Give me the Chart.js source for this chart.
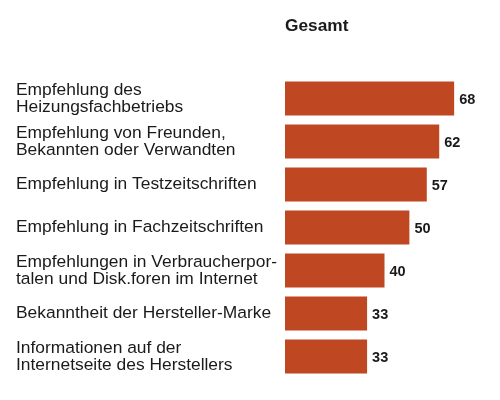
<!DOCTYPE html>
<html>
<head>
<meta charset="utf-8">
<script src="https://cdn.jsdelivr.net/npm/chart.js@4/dist/chart.umd.min.js"></script>
<style>
  html, body { margin: 0; padding: 0; background: #fff; }
  #wrap { width: 500px; height: 400px; }
</style>
</head>
<body>
<div id="wrap"><canvas id="chart"></canvas></div>
<script>
const categories = [
  ['Empfehlung des', 'Heizungsfachbetriebs'],
  ['Empfehlung von Freunden,', 'Bekannten oder Verwandten'],
  'Empfehlung in Testzeitschriften',
  'Empfehlung in Fachzeitschriften',
  ['Empfehlungen in Verbraucherpor-', 'talen und Disk.foren im Internet'],
  'Bekanntheit der Hersteller-Marke',
  ['Informationen auf der', 'Internetseite des Herstellers']
];
const values = [68, 62, 57, 50, 40, 33, 33];
const seriesName = 'Gesamt';

const barColor = '#bf4722';
const textColor = '#1a1a1a';
const fontFamily = '"Liberation Sans", Arial, Helvetica, sans-serif';

// draws the value right of each bar
const valueLabels = {
  id: 'valueLabels',
  afterDatasetsDraw(chart) {
    const c = chart.ctx;
    const meta = chart.getDatasetMeta(0);
    c.save();
    c.font = 'bold 14.5px ' + fontFamily;
    c.fillStyle = textColor;
    c.textAlign = 'left';
    c.textBaseline = 'middle';
    meta.data.forEach((bar, i) => {
      c.fillText(String(values[i]), bar.x + 5, bar.y + 1);
    });
    c.restore();
  }
};

const ctx = document.getElementById('chart');

new Chart(ctx, {
  type: 'bar',
  data: {
    labels: categories,
    datasets: [{
      label: seriesName,
      data: values,
      backgroundColor: barColor,
      borderWidth: 0,
      barPercentage: 0.79,
      categoryPercentage: 1
    }]
  },
  plugins: [valueLabels],
  options: {
    indexAxis: 'y',
    responsive: true,
    maintainAspectRatio: false,
    animation: false,
    layout: { padding: { left: 16, right: 16, top: 0, bottom: 22 } },
    plugins: {
      legend: { display: false },
      tooltip: { enabled: false }
    },
    scales: {
      x: {
        position: 'top',
        min: 0,
        max: 80,
        grid: { display: false, drawTicks: false },
        border: { display: false },
        ticks: { display: false },
        title: {
          display: true,
          text: seriesName,
          align: 'start',
          color: textColor,
          font: { family: fontFamily, size: 17.3, weight: 'bold' },
          padding: { top: 16, bottom: 0 }
        },
        afterFit(scale) { scale.height = 77; }
      },
      y: {
        grid: { display: false, drawTicks: false },
        border: { display: false },
        ticks: {
          crossAlign: 'far',
          padding: 0,
          color: textColor,
          font: { family: fontFamily, size: 17.4, lineHeight: 0.98 }
        },
        afterFit(scale) { scale.width = 269; }
      }
    }
  }
});
</script>
</body>
</html>
